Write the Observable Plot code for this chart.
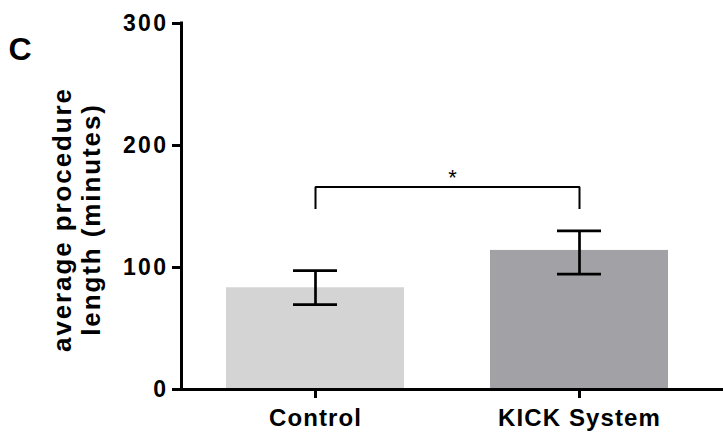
<!DOCTYPE html>
<html><head><meta charset="utf-8">
<script src="https://cdn.jsdelivr.net/npm/d3@7"></script>
<script src="https://cdn.jsdelivr.net/npm/@observablehq/plot@0.6"></script>
<style>
body{margin:0;background:#fff;}
g[aria-label="y-axis tick label"] text{letter-spacing:2.4px}
g[aria-label="x-axis tick label"] text{letter-spacing:1.1px}
</style></head><body><div id="chart"></div>
<script>
const categories = ["Control", "KICK System"];
const means = [83.4, 114];
const errLow = [69.5, 94.5];
const errHigh = [97.5, 130];
const barColors = ["#d4d4d4", "#a2a1a5"];
const yTicks = [0, 100, 200, 300];
const bracketLegY = 148;
const bracketTopY = 166;
const starY = 173;
const starText = "*";
const yLabelLines = ["average procedure", "length (minutes)"];
const panelLetter = "C";

const data = categories.map((c, i) => ({group: c, mean: means[i], low: errLow[i], high: errHigh[i]}));
const bracket = [
  {x: categories[0], y: bracketLegY},
  {x: categories[0], y: bracketTopY},
  {x: categories[1], y: bracketTopY},
  {x: categories[1], y: bracketLegY}
];

const chart = Plot.plot({
  width: 723, height: 438,
  marginLeft: 181, marginRight: 0, marginTop: 23, marginBottom: 49,
  style: {fontFamily: '"Liberation Sans", Arial, sans-serif', fontWeight: "bold", background: "white", color: "black", overflow: "visible"},
  x: {domain: categories, paddingInner: 0.326, paddingOuter: 0.1865, align: 0.45, label: null},
  y: {domain: [0, 300], label: null},
  color: {domain: categories, range: barColors},
  marks: [
    Plot.barY(data, {x: "group", y: "mean", fill: "group"}),
    Plot.ruleX(data, {x: "group", y1: "low", y2: "high", stroke: "black", strokeWidth: 2.7}),
    Plot.tickY(data, {x: "group", y: "low", insetLeft: 67, insetRight: 67, stroke: "black", strokeWidth: 2.7}),
    Plot.tickY(data, {x: "group", y: "high", insetLeft: 67, insetRight: 67, stroke: "black", strokeWidth: 2.7}),
    Plot.line(bracket, {x: "x", y: "y", stroke: "black", strokeWidth: 2, strokeLinejoin: "miter", strokeLinecap: "butt"}),
    Plot.text([starText], {y: () => starY, text: d => d, fontSize: 22, fontWeight: "normal"}),
    Plot.axisY({ticks: yTicks, tickSize: 9, tickPadding: 4, fontSize: 23, strokeWidth: 3}),
    Plot.axisX({tickSize: 9, tickPadding: 10, fontSize: 24, strokeWidth: 3}),
    Plot.ruleY([0], {strokeWidth: 3}),
    Plot.text([yLabelLines.join("\n")], {frameAnchor: "left", textAnchor: "middle", rotate: -90, dx: 76 - 181, dy: 13, fontSize: 26, lineHeight: 29 / 26, text: d => d}),
    Plot.text([panelLetter], {frameAnchor: "top-left", dx: 8 - 181, dy: 13.7, lineAnchor: "top", textAnchor: "start", fontSize: 32, text: d => d})
  ]
});

d3.select(chart).selectAll("text")
  .filter(function() { return this.textContent.startsWith(yLabelLines[0]); })
  .style("letter-spacing", "1.9px");

const ys = chart.scale("y");
d3.select(chart).append("line")
  .attr("x1", 181.5).attr("x2", 181.5)
  .attr("y1", ys.apply(yTicks[yTicks.length - 1]) - 1.5)
  .attr("y2", ys.apply(0) + 1.5)
  .attr("stroke", "black").attr("stroke-width", 3);

document.getElementById("chart").append(chart);
</script>
</body></html>
